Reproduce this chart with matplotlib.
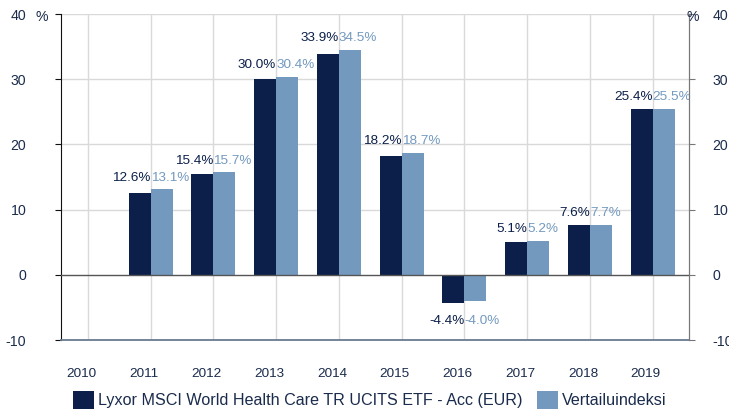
import matplotlib
matplotlib.use("Agg")
import matplotlib.pyplot as plt
import numpy as np
from matplotlib.patches import Patch
from matplotlib.transforms import offset_copy

plt.rcParams['font.family'] = ['Liberation Sans', 'DejaVu Sans']

years = ['2010', '2011', '2012', '2013', '2014', '2015', '2016', '2017', '2018', '2019']
fund = [np.nan, 12.6, 15.4, 30.0, 33.9, 18.2, -4.4, 5.1, 7.6, 25.4]
index = [np.nan, 13.1, 15.7, 30.4, 34.5, 18.7, -4.0, 5.2, 7.7, 25.5]
fund_name = 'Lyxor MSCI World Health Care TR UCITS ETF - Acc (EUR)'
index_name = 'Vertailuindeksi'
yticks = [-10, 0, 10, 20, 30, 40]

dark = '#0b1f4a'
light = '#7399bf'
txt = '#1a2b4c'

fig = plt.figure(figsize=(7.29, 4.12), dpi=100)
ax = fig.add_axes([61/729, 1-340/412, (689-61)/729, (340-14)/412])
x = np.arange(len(years))
w = 0.35
ax.bar(x - w/2, fund, width=w, color=dark, zorder=3)
ax.bar(x + w/2, index, width=w, color=light, zorder=3)

ax.set_xlim(-0.43, 9.58)
ax.set_ylim(-10, 40)

# grid
for xi in x:
    ax.axvline(xi, color='#d9d9d9', lw=1, zorder=1)
for yv in [10, 20, 30, 40]:
    ax.axhline(yv, color='#d9d9d9', lw=1, zorder=1)
ax.axhline(0, color='#555555', lw=1, zorder=4)

# value labels
for xi, f, b in zip(x, fund, index):
    if np.isnan(f):
        continue
    if f >= 0:
        top = max(f, b)
        tr_f = offset_copy(ax.transData, fig=fig, x=0, y=4, units='points')
        ax.text(xi, top, f'{f:.1f}%', ha='right', va='bottom', color=dark, fontsize=9.7, transform=tr_f)
        ax.text(xi, top, f'{b:.1f}%', ha='left', va='bottom', color=light, fontsize=9.7, transform=tr_f)
    else:
        bot = min(f, b)
        tr_f = offset_copy(ax.transData, fig=fig, x=0, y=-8, units='points')
        ax.text(xi, bot, f'{f:.1f}%', ha='right', va='top', color=dark, fontsize=9.7, transform=tr_f)
        ax.text(xi, bot, f'{b:.1f}%', ha='left', va='top', color=light, fontsize=9.7, transform=tr_f)

# x tick labels
ax.set_xticks(x - 0.11)
ax.set_xticklabels(years, fontsize=9.7, color=txt)
ax.tick_params(axis='x', length=0, pad=20)

# spines
for s in ['top']:
    ax.spines[s].set_visible(False)
ax.spines['left'].set_color('#111111')
ax.spines['right'].set_color('#777777')
ax.spines['bottom'].set_color('#6a7a90')
ax.spines['bottom'].set_linewidth(1.3)

ax.set_yticks(yticks)
ax.set_yticklabels([str(v) for v in yticks], fontsize=10.2, color=txt)
ax.tick_params(axis='y', direction='out', length=4, color='#111111', pad=21)

ax2 = ax.twinx()
ax2.set_ylim(ax.get_ylim())
ax2.set_yticks(yticks)
ax2.set_yticklabels([str(v) for v in yticks], fontsize=10.2, color=txt)
ax2.tick_params(axis='y', direction='out', length=4, color='#777777', pad=13)
for s in ['top', 'left', 'bottom']:
    ax2.spines[s].set_visible(False)
ax2.spines['right'].set_color('#777777')

fig.text(42/729, 1-17/412, '%', fontsize=10.2, color=txt, ha='center', va='center')
fig.text(693/729, 1-17/412, '%', fontsize=10.2, color=txt, ha='center', va='center')

handles = [Patch(facecolor=dark), Patch(facecolor=light)]
fig.legend(handles, [fund_name, index_name], loc='center', bbox_to_anchor=(370/729, 1-400/412),
           ncol=2, frameon=False, fontsize=11.6, handlelength=1.3, handleheight=1.3,
           handletextpad=0.25, columnspacing=0.9, labelcolor=txt, borderaxespad=0, borderpad=0)

fig.savefig('out.png', dpi=100)
